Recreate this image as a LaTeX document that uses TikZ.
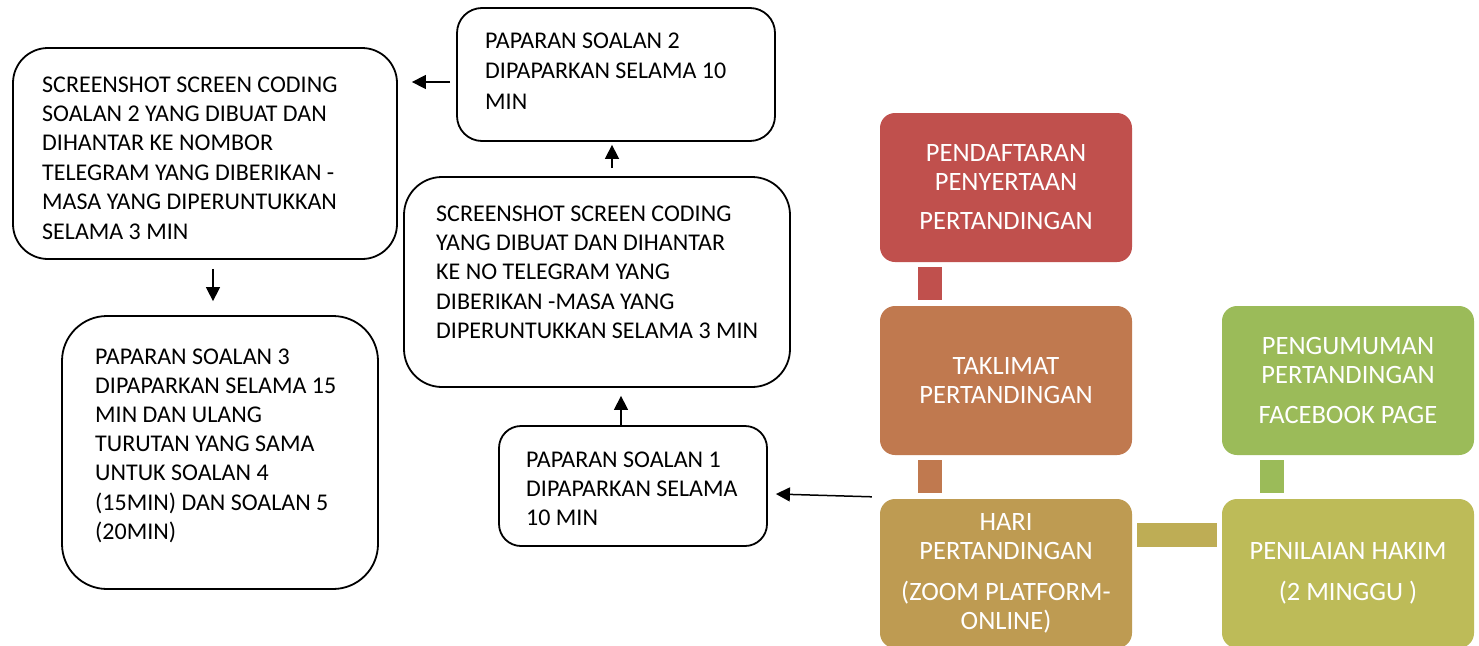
\documentclass[tikz,border=0pt]{standalone}
\usepackage{fontspec}
\setmainfont{Carlito}
\usetikzlibrary{arrows.meta,calc}
\definecolor{cred}{HTML}{C0504D}
\definecolor{corange}{HTML}{C0794F}
\definecolor{cgold}{HTML}{BE9B52}
\definecolor{colive}{HTML}{BDBB58}
\definecolor{cgreen}{HTML}{9BBB59}
\definecolor{clink}{HTML}{BEAD55}
\begin{document}
\begin{tikzpicture}[x=1pt,y=-1pt,
  bbox/.style={draw=black, line width=1.8pt, fill=white, inner sep=0pt},
  btext/.style={anchor=north west, inner sep=0pt, align=left, font=\fontsize{24}{29.4}\selectfont},
  cbox/.style={rounded corners=15pt, minimum width=252pt, minimum height=149pt, inner sep=0pt, align=center, text=white, font=\fontsize{26.5}{29}\selectfont},
  arr/.style={-{Triangle[length=14pt,width=14pt]}, line width=1.5pt}
]
\clip (0,0) rectangle (1479,645);
\fill[white] (0,0) rectangle (1479,645);

% coloured process boxes
\node[cbox, fill=cred] (reg) at (1006,187.5) {PENDAFTARAN\\PENYERTAAN\\[10pt]PERTANDINGAN};
\node[cbox, fill=corange] (brief) at (1006,380.5) {TAKLIMAT\\PERTANDINGAN};
\node[cbox, fill=cgold] (day) at (1006,573.5) {HARI\\PERTANDINGAN\\[12pt](ZOOM PLATFORM-\\ONLINE)};
\node[cbox, fill=cgreen] (ann) at (1348,380.5) {PENGUMUMAN\\PERTANDINGAN\\[11pt]FACEBOOK PAGE};
\node[cbox, fill=colive] (judge) at (1348,573.5) {PENILAIAN HAKIM\\[12pt](2 MINGGU )};

% block connectors
\draw[cred, line width=24pt] ($(reg.south)+(-76,5)$) -- ($(brief.north)+(-76,-6)$);
\draw[corange, line width=24pt] ($(brief.south)+(-76,5)$) -- ($(day.north)+(-76,-6)$);
\draw[cgreen, line width=24pt] ($(ann.south)+(-76,5)$) -- ($(judge.north)+(-76,-6)$);
\draw[clink, line width=24pt] ($(day.east)+(5,-38.5)$) -- ($(judge.west)+(-5,-38.5)$);

% outlined boxes
\node[bbox, minimum width=384pt, minimum height=211pt, rounded corners=35pt] (b1) at (205,153.5) {};
\node[bbox, minimum width=318pt, minimum height=133pt, rounded corners=25pt] (b2) at (616,74.5) {};
\node[bbox, minimum width=386pt, minimum height=210pt, rounded corners=38pt] (b3) at (597,282) {};
\node[bbox, minimum width=268pt, minimum height=120pt, rounded corners=22pt] (b4) at (633,486) {};
\node[bbox, minimum width=316pt, minimum height=273pt, rounded corners=45pt] (b5) at (220,452.5) {};

\node[btext] (t1) at (42,76.4) {SCREENSHOT SCREEN CODING\\SOALAN 2 YANG DIBUAT DAN\\DIHANTAR KE NOMBOR\\TELEGRAM YANG DIBERIKAN -\\MASA YANG DIPERUNTUKKAN\\SELAMA 3 MIN};
\node[btext, font=\fontsize{24}{30.5}\selectfont] (t2) at (485,32.4) {PAPARAN SOALAN 2\\DIPAPARKAN SELAMA 10\\MIN};
\node[btext] (t3) at (436,205.4) {SCREENSHOT SCREEN CODING\\YANG DIBUAT DAN DIHANTAR\\KE NO TELEGRAM YANG\\DIBERIKAN -MASA YANG\\DIPERUNTUKKAN SELAMA 3 MIN};
\node[btext, font=\fontsize{24}{29}\selectfont] (t4) at (526,451.4) {PAPARAN SOALAN 1\\DIPAPARKAN SELAMA\\10 MIN};
\node[btext, font=\fontsize{24}{29.2}\selectfont] (t5) at (95,348.4) {PAPARAN SOALAN 3\\DIPAPARKAN SELAMA 15\\MIN DAN ULANG\\TURUTAN YANG SAMA\\UNTUK SOALAN 4\\(15MIN) DAN SOALAN 5\\(20MIN)};

% arrows
\coordinate (s1) at ($(day.north west)+(-8,-2)$);
\draw[arr] (s1) -- ($(b4.east)+(8,8)$);
\draw[arr] ($(b4.north)+(-12,0)$) -- ($(b3.south)+(24,8)$);
\draw[arr] ($(b3.north)+(15,-8)$) -- ($(b2.south)+(-4,3)$);
\draw[arr] ($(b2.west)+(-6,7.5)$) -- ($(b1.east)+(14,-71.5)$);
\draw[arr] ($(b1.south)+(8,9)$) -- ($(b5.north)+(-7,-14)$);
\end{tikzpicture}
\end{document}
